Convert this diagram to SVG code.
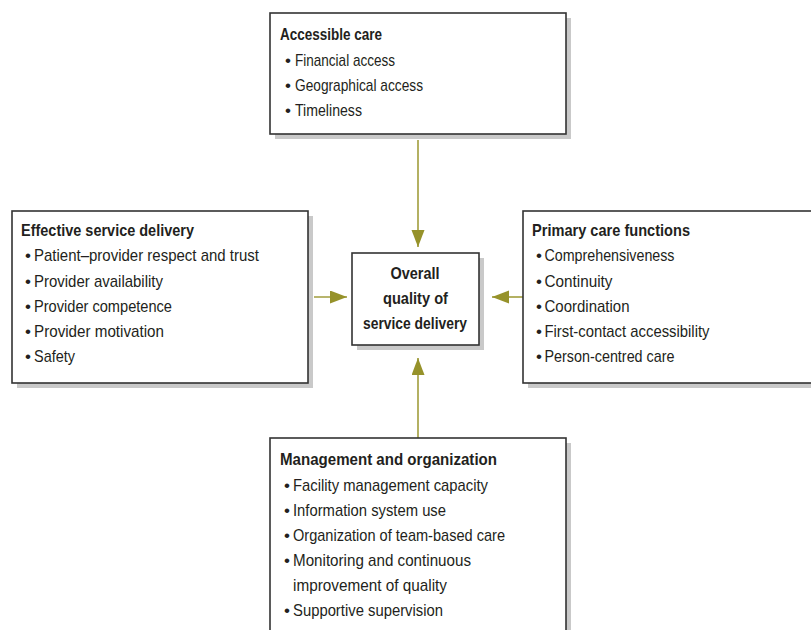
<svg xmlns="http://www.w3.org/2000/svg" width="811" height="630" viewBox="0 0 811 630">
<style>
.shadow{fill:#c9c9c9;stroke:none}
.box{fill:#fff;stroke:#333;stroke-width:1.6}
text{font-family:"Liberation Sans",Arial,sans-serif;font-size:17px;fill:#231f20}
.t{font-weight:bold}
.c{font-weight:bold;text-anchor:middle}
.conn{stroke:#a19d3c;stroke-width:1.6;fill:none;marker-end:url(#ah)}
</style>
<defs>
<marker id="ah" markerUnits="userSpaceOnUse" markerWidth="18" markerHeight="14" refX="17" refY="6.5" orient="auto">
<path d="M0,0 L17,6.5 L0,13 Z" fill="#96922a"/>
</marker>
</defs>
<rect width="811" height="630" fill="#fff"/>
<g id="connectors">
<path class="conn" d="M418,140 V247"/>
<path class="conn" d="M418,438 V358"/>
<path class="conn" d="M314,297 H347"/>
<path class="conn" d="M523,297 H492"/>
</g>
<g id="accessible">
<rect class="shadow" x="275" y="18" width="296" height="121"/>
<rect class="box" x="270" y="13" width="296" height="121"/>
<text class="t" x="280" y="40" textLength="102" lengthAdjust="spacingAndGlyphs">Accessible care</text>
<text x="285" y="65.5">•</text><text x="295" y="65.5" textLength="100" lengthAdjust="spacingAndGlyphs">Financial access</text>
<text x="285" y="90.5">•</text><text x="295" y="90.5" textLength="128" lengthAdjust="spacingAndGlyphs">Geographical access</text>
<text x="285" y="115.5">•</text><text x="295" y="115.5" textLength="67" lengthAdjust="spacingAndGlyphs">Timeliness</text>
</g>
<g id="effective">
<rect class="shadow" x="17" y="216" width="296" height="172"/>
<rect class="box" x="12" y="211" width="296" height="172"/>
<text class="t" x="21" y="236" textLength="173" lengthAdjust="spacingAndGlyphs">Effective service delivery</text>
<text x="25" y="261">•</text><text x="34" y="261" textLength="225" lengthAdjust="spacingAndGlyphs">Patient–provider respect and trust</text>
<text x="25" y="286.5">•</text><text x="34" y="286.5" textLength="129" lengthAdjust="spacingAndGlyphs">Provider availability</text>
<text x="25" y="311.5">•</text><text x="34" y="311.5" textLength="138" lengthAdjust="spacingAndGlyphs">Provider competence</text>
<text x="25" y="337">•</text><text x="34" y="337" textLength="130" lengthAdjust="spacingAndGlyphs">Provider motivation</text>
<text x="25" y="362">•</text><text x="34" y="362" textLength="41" lengthAdjust="spacingAndGlyphs">Safety</text>
</g>
<g id="primary">
<rect class="shadow" x="528" y="216" width="300" height="172"/>
<rect class="box" x="523" y="211" width="300" height="172"/>
<text class="t" x="532" y="236" textLength="158" lengthAdjust="spacingAndGlyphs">Primary care functions</text>
<text x="536" y="261">•</text><text x="544.5" y="261" textLength="130" lengthAdjust="spacingAndGlyphs">Comprehensiveness</text>
<text x="536" y="286.5">•</text><text x="544.5" y="286.5" textLength="68" lengthAdjust="spacingAndGlyphs">Continuity</text>
<text x="536" y="311.5">•</text><text x="544.5" y="311.5" textLength="85" lengthAdjust="spacingAndGlyphs">Coordination</text>
<text x="536" y="337">•</text><text x="544.5" y="337" textLength="165" lengthAdjust="spacingAndGlyphs">First-contact accessibility</text>
<text x="536" y="362">•</text><text x="544.5" y="362" textLength="130" lengthAdjust="spacingAndGlyphs">Person-centred care</text>
</g>
<g id="overall">
<rect class="shadow" x="357" y="258" width="127" height="92"/>
<rect class="box" x="352" y="253" width="127" height="92"/>
<text class="c" x="415" y="279" textLength="49" lengthAdjust="spacingAndGlyphs">Overall</text>
<text class="c" x="415.5" y="304" textLength="65" lengthAdjust="spacingAndGlyphs">quality of</text>
<text class="c" x="415" y="329" textLength="104" lengthAdjust="spacingAndGlyphs">service delivery</text>
</g>
<g id="management">
<rect class="shadow" x="275" y="443" width="296" height="200"/>
<rect class="box" x="270" y="438" width="296" height="200"/>
<text class="t" x="280" y="465" textLength="217" lengthAdjust="spacingAndGlyphs">Management and organization</text>
<text x="284" y="490.5">•</text><text x="293" y="490.5" textLength="195" lengthAdjust="spacingAndGlyphs">Facility management capacity</text>
<text x="284" y="515.5">•</text><text x="293" y="515.5" textLength="153" lengthAdjust="spacingAndGlyphs">Information system use</text>
<text x="284" y="540.5">•</text><text x="293" y="540.5" textLength="212" lengthAdjust="spacingAndGlyphs">Organization of team-based care</text>
<text x="284" y="565.5">•</text><text x="293" y="565.5" textLength="178" lengthAdjust="spacingAndGlyphs">Monitoring and continuous</text>
<text x="293" y="590.5" textLength="154" lengthAdjust="spacingAndGlyphs">improvement of quality</text>
<text x="284" y="615.5">•</text><text x="293" y="615.5" textLength="150" lengthAdjust="spacingAndGlyphs">Supportive supervision</text>
</g>
</svg>
